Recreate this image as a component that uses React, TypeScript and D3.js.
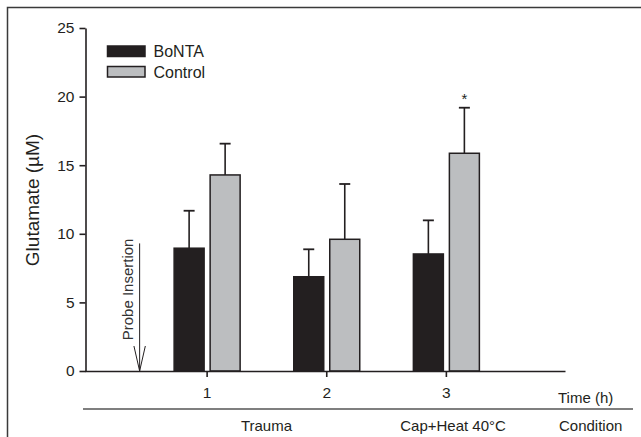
import { useEffect, useRef } from 'react';
import * as d3 from 'd3';

const WIDTH = 641;
const HEIGHT = 437;

// data
const times = [1, 2, 3];
const groups = ['BoNTA', 'Control'];
const bontaMean = [8.95, 6.87, 8.53];
const bontaErr = [2.73, 2.0, 2.45];
const controlMean = [14.29, 9.6, 15.87];
const controlErr = [2.28, 4.03, 3.32];
const yTicks = [0, 5, 10, 15, 20, 25];
const conditionLabels = ['Trauma', 'Cap+Heat 40°C'];
const conditionAt = [1.5, 3.06];
const significant = [false, false, true]; // control vs BoNTA
const probeTime = 0.44;
const probeTop = 9.3;

const INK = '#231f20';
const FONT = '"Liberation Sans", Arial, Helvetica, sans-serif';

export default function App() {
  const axesRef = useRef<SVGGElement>(null);

  const xScale = d3.scaleLinear().domain([0, 4]).range([87, 565.5]);
  const yScale = d3.scaleLinear().domain([0, 25]).range([371, 28]);
  const sub = d3.scaleBand().domain(groups).range([-32.5, 33.5]).paddingInner(0.167);
  const color = d3.scaleOrdinal<string>().domain(groups).range([INK, '#bcbec0']);

  const rows = times.map((t, i) => ({
    t,
    vals: [
      { key: 'BoNTA', mean: bontaMean[i], err: bontaErr[i] },
      { key: 'Control', mean: controlMean[i], err: controlErr[i] },
    ],
    sig: significant[i],
  }));

  useEffect(() => {
    const g = d3.select(axesRef.current);
    g.selectAll('*').remove();

    const yAxis = g
      .append('g')
      .attr('transform', `translate(${xScale(0) - 1.5},0)`)
      .call(
        d3.axisLeft(yScale).tickValues(yTicks).tickFormat(d3.format('d')).tickSize(6).tickSizeOuter(0).tickPadding(5)
      );
    const xAxis = g
      .append('g')
      .attr('transform', `translate(0,${yScale(0)})`)
      .call(
        d3.axisBottom(xScale).tickValues(times).tickFormat(d3.format('d')).tickSize(6).tickSizeOuter(0).tickPadding(10)
      );

    [yAxis, xAxis].forEach((a) => {
      a.attr('font-size', null).attr('font-family', null);
      a.select('.domain').attr('stroke', INK).attr('stroke-width', 1.6);
      a.selectAll('.tick line').attr('stroke', INK).attr('stroke-width', 1.6);
      a.selectAll('.tick text')
        .attr('fill', INK)
        .style('font-family', FONT)
        .style('font-size', '15.5px');
    });
    xAxis.select('.domain').attr('d', `M${xScale(0) - 2},0.5H${xScale(4)}`);
  }, []);

  const px = xScale(probeTime);
  const py0 = yScale(probeTop);
  const py1 = yScale(0);

  return (
    <svg
      width={WIDTH}
      height={HEIGHT}
      style={{ position: 'absolute', left: 0, top: 0, background: '#fff' }}
      fontFamily={FONT}
    >
      {/* frame */}
      <rect x={7.5} y={7.5} width={WIDTH + 20} height={HEIGHT + 20} fill="none" stroke="#3a3a3a" strokeWidth={1.5} />

      {/* bars + error bars */}
      {rows.map((r) => (
        <g key={r.t} transform={`translate(${xScale(r.t)},0)`}>
          {r.vals.map((v) => {
            const x0 = sub(v.key)!;
            const bw = sub.bandwidth();
            const cx = x0 + bw / 2;
            return (
              <g key={v.key}>
                <line x1={cx} x2={cx} y1={yScale(v.mean)} y2={yScale(v.mean + v.err)} stroke={INK} strokeWidth={1.6} />
                <line x1={cx - 5.5} x2={cx + 5.5} y1={yScale(v.mean + v.err)} y2={yScale(v.mean + v.err)} stroke={INK} strokeWidth={1.8} />
                <rect
                  x={x0}
                  y={yScale(v.mean)}
                  width={bw}
                  height={yScale(0) - yScale(v.mean)}
                  fill={color(v.key)}
                  stroke={INK}
                  strokeWidth={1.5}
                />
              </g>
            );
          })}
          {r.sig && (
            <text
              x={sub('Control')! + sub.bandwidth() / 2}
              y={yScale(r.vals[1].mean + r.vals[1].err) - 4}
              textAnchor="middle"
              style={{ fontSize: '15px' }}
              fill={INK}
            >
              *
            </text>
          )}
        </g>
      ))}

      <g ref={axesRef} />

      {/* probe insertion arrow */}
      <line x1={px} x2={px} y1={py0} y2={py1} stroke={INK} strokeWidth={1} />
      <polyline points={`${px - 5.7},${py1 - 25} ${px},${py1} ${px + 5.7},${py1 - 25}`} fill="none" stroke={INK} strokeWidth={1} />
      <text
        transform={`translate(${px - 7},${py0 + 46}) rotate(-90)`}
        textAnchor="middle"
        style={{ fontSize: '15px' }}
        fill="#333"
      >
        Probe Insertion
      </text>

      {/* legend */}
      {groups.map((k, i) => (
        <g key={k} transform={`translate(107.5,${46 + i * 20.5})`}>
          <rect width={37.5} height={10.5} fill={color(k)} stroke={INK} strokeWidth={1.5} />
          <text x={46} y={11} style={{ fontSize: '16px' }} fill={INK}>
            {k}
          </text>
        </g>
      ))}

      {/* y label */}
      <text transform="translate(39,200) rotate(-90)" textAnchor="middle" style={{ fontSize: '19px' }} fill={INK}>
        Glutamate (µM)
      </text>

      {/* x labels */}
      <text x={558} y={403} style={{ fontSize: '15px' }} fill={INK}>
        Time (h)
      </text>
      <line x1={83} x2={633} y1={409} y2={409} stroke="#555" strokeWidth={1.3} />
      {conditionLabels.map((c, i) => (
        <text key={c} x={xScale(conditionAt[i])} y={431} textAnchor="middle" style={{ fontSize: '15px' }} fill={INK}>
          {c}
        </text>
      ))}
      <text x={559} y={431} style={{ fontSize: '15px' }} fill={INK}>
        Condition
      </text>
    </svg>
  );
}
